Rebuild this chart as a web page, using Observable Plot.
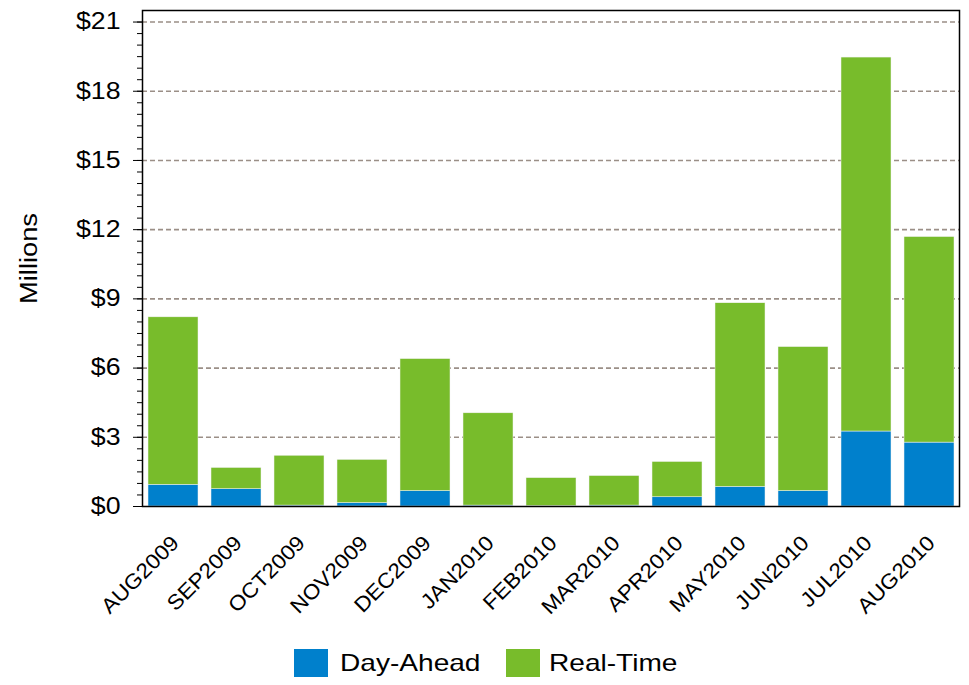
<!DOCTYPE html>
<html>
<head>
<meta charset="utf-8">
<script src="https://cdn.jsdelivr.net/npm/d3@7"></script>
<script src="https://cdn.jsdelivr.net/npm/@observablehq/plot@0.6"></script>
<style>
  html, body { margin: 0; padding: 0; background: #fff; }
  body { width: 969px; height: 685px; overflow: hidden; position: relative; font-family: "Liberation Sans", Arial, sans-serif; }
  #legend { position: absolute; left: 0; top: 640px; width: 969px; height: 45px; }
  .sw { position: absolute; top: 9px; width: 34px; height: 28px; }
  .lt { position: absolute; top: 5px; font-size: 24px; line-height: 36px; color: #000; transform: scaleX(1.17); transform-origin: left center; white-space: nowrap; }
</style>
</head>
<body>
<div id="chart"></div>
<div id="legend"></div>
<script>
const months = ["AUG2009","SEP2009","OCT2009","NOV2009","DEC2009","JAN2010","FEB2010","MAR2010","APR2010","MAY2010","JUN2010","JUL2010","AUG2010"];
const dayAhead = [0.94, 0.75, 0.04, 0.15, 0.67, 0.04, 0.02, 0.04, 0.40, 0.85, 0.67, 3.25, 2.77];
const realTime = [7.26, 0.92, 2.16, 1.87, 5.72, 4.00, 1.21, 1.28, 1.53, 7.96, 6.24, 16.21, 8.91];
const seriesNames = ["Day-Ahead", "Real-Time"];
const seriesColors = ["#0080CC", "#78BC2B"];
const yTicks = [0, 3, 6, 9, 12, 15, 18, 21];

const data = [];
months.forEach((m, i) => {
  data.push({month: m, series: seriesNames[0], value: dayAhead[i]});
  data.push({month: m, series: seriesNames[1], value: realTime[i]});
});

const chart = Plot.plot({
  width: 969,
  height: 640,
  marginLeft: 142,
  marginRight: 10,
  marginTop: 10,
  marginBottom: 134,
  style: {fontFamily: "Liberation Sans, Arial, sans-serif", background: "#fff", color: "#000"},
  x: {domain: months, paddingInner: 0.21, paddingOuter: 0.06, label: null},
  y: {domain: [0, 21.5], label: null},
  color: {domain: seriesNames, range: seriesColors},
  marks: [
    Plot.ruleY(yTicks.filter(d => d > 0), {stroke: "#9b8f87", strokeWidth: 1.6, strokeDasharray: "5,3"}),
    Plot.barY(data, {x: "month", y: "value", fill: "series", stroke: "#f2f2f2", strokeWidth: 0.5}),
    Plot.frame({stroke: "#000", strokeWidth: 1.5}),
    Plot.axisY({ticks: d3.range(0, 21.5, 0.5), tickSize: 5, text: null, stroke: "#000"}),
    Plot.axisY({ticks: yTicks, tickSize: 9, tickPadding: 13, tickFormat: d => "$" + d, fontSize: 23, stroke: "#000", label: null}),
    Plot.axisX({tickSize: 0, tickRotate: -45, tickPadding: 33, dx: 2, fontSize: 21, label: null}),
    Plot.text(["Millions"], {frameAnchor: "left", textAnchor: "middle", dx: -113, rotate: -90, fontSize: 23.5, text: d => d})
  ]
});
document.getElementById("chart").appendChild(chart);

// widen glyphs to match the reference's wider text rendering
d3.select(chart).selectAll("text").each(function() {
  const len = this.getComputedTextLength();
  if (len > 0) {
    const isX = /^[A-Z]{3}20/.test(this.textContent);
    d3.select(this).attr("textLength", len * (isX ? 1.08 : 1.16)).attr("lengthAdjust", "spacingAndGlyphs");
  }
});

const legend = d3.select("#legend");
const legendX = [[294, 340], [506, 549]];
seriesNames.forEach((s, i) => {
  legend.append("div").attr("class", "sw").style("left", legendX[i][0] + "px").style("background", seriesColors[i]);
  legend.append("div").attr("class", "lt").style("left", legendX[i][1] + "px").text(s);
});
</script>
</body>
</html>
